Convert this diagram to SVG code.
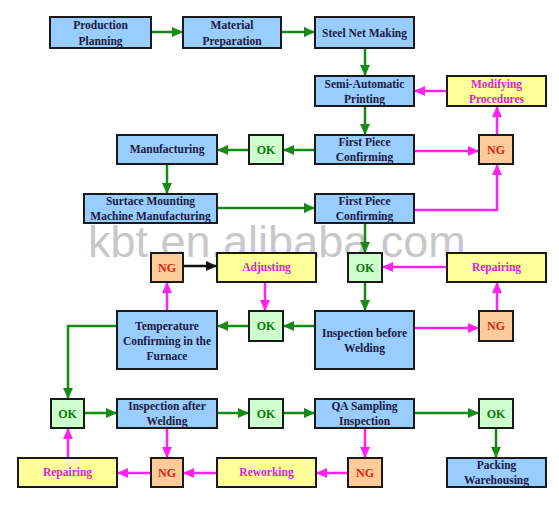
<svg xmlns="http://www.w3.org/2000/svg" width="559" height="511" viewBox="0 0 559 511">
<style>
.b{fill:#99ccff;stroke:#1a1a1a;stroke-width:2}
.y{fill:#ffff99;stroke:#1a1a1a;stroke-width:2}
.o{fill:#ccffcc;stroke:#1a1a1a;stroke-width:2}
.n{fill:#ffcc99;stroke:#1a1a1a;stroke-width:2}
text{font-family:"Liberation Serif","Times New Roman",serif;font-weight:bold;font-size:11.5px;text-anchor:middle}
.tb{fill:#1a1a40}
.ty{fill:#dd22cc}
.to{fill:#117711;font-size:12px}
.tn{fill:#dd2211;font-size:12px}
.g{stroke:#168a16;stroke-width:2.5;fill:none}
.m{stroke:#ff22ee;stroke-width:2.5;fill:none}
.k{stroke:#111;stroke-width:2.5;fill:none}
.wm{font-family:"Liberation Sans",Arial,sans-serif;font-weight:normal;font-size:45px;fill:#c8c8c8;text-anchor:start}
</style>
<defs>
<marker id="ag" markerUnits="userSpaceOnUse" markerWidth="12" markerHeight="10" refX="11" refY="5" orient="auto"><path d="M0,0L11,5L0,10z" fill="#168a16"/></marker>
<marker id="am" markerUnits="userSpaceOnUse" markerWidth="12" markerHeight="10" refX="11" refY="5" orient="auto"><path d="M0,0L11,5L0,10z" fill="#ff22ee"/></marker>
<marker id="ak" markerUnits="userSpaceOnUse" markerWidth="12" markerHeight="10" refX="11" refY="5" orient="auto"><path d="M0,0L11,5L0,10z" fill="#111"/></marker>
</defs>
<rect width="559" height="511" fill="#fff"/>
<text class="wm" x="88" y="257">kbt.en.alibaba.com</text>
<g id="connectors">
<path class="g" marker-end="url(#ag)" d="M151,32H183"/>
<path class="g" marker-end="url(#ag)" d="M281,32H315"/>
<path class="g" marker-end="url(#ag)" d="M365,48V76"/>
<path class="m" marker-end="url(#am)" d="M447,91H414"/>
<path class="g" marker-end="url(#ag)" d="M365,106V135"/>
<path class="m" marker-end="url(#am)" d="M497,135V106"/>
<path class="m" marker-end="url(#am)" d="M414,151H479"/>
<path class="g" marker-end="url(#ag)" d="M315,150H283"/>
<path class="g" marker-end="url(#ag)" d="M249,150H217"/>
<path class="g" marker-end="url(#ag)" d="M167,164V194"/>
<path class="g" marker-end="url(#ag)" d="M217,208H315"/>
<path class="m" marker-end="url(#am)" d="M414,210H497V164"/>
<path class="g" marker-end="url(#ag)" d="M365,223V253"/>
<path class="m" marker-end="url(#am)" d="M447,267H382"/>
<path class="g" marker-end="url(#ag)" d="M365,282V311"/>
<path class="m" marker-end="url(#am)" d="M497,311V282"/>
<path class="m" marker-end="url(#am)" d="M414,328H479"/>
<path class="g" marker-end="url(#ag)" d="M315,326H283"/>
<path class="g" marker-end="url(#ag)" d="M249,326H217"/>
<path class="m" marker-end="url(#am)" d="M167,311V282"/>
<path class="k" marker-end="url(#ak)" d="M183,266H217"/>
<path class="m" marker-end="url(#am)" d="M265,282V311"/>
<path class="g" marker-end="url(#ag)" d="M117,326H68V399"/>
<path class="g" marker-end="url(#ag)" d="M84,413H117"/>
<path class="g" marker-end="url(#ag)" d="M217,413H249"/>
<path class="g" marker-end="url(#ag)" d="M283,413H315"/>
<path class="g" marker-end="url(#ag)" d="M414,413H479"/>
<path class="g" marker-end="url(#ag)" d="M496,428V458"/>
<path class="m" marker-end="url(#am)" d="M365,428V458"/>
<path class="m" marker-end="url(#am)" d="M348,473H316"/>
<path class="m" marker-end="url(#am)" d="M217,473H183"/>
<path class="m" marker-end="url(#am)" d="M167,428V458"/>
<path class="m" marker-end="url(#am)" d="M151,473H117"/>
<path class="m" marker-end="url(#am)" d="M68,458V428"/>
</g>
<g id="production-planning"><rect class="b" x="50" y="17" width="101" height="31"/><text class="tb" x="100.5" y="29">Production</text><text class="tb" x="100.5" y="45">Planning</text></g>
<g id="material-preparation"><rect class="b" x="183" y="17" width="98" height="31"/><text class="tb" x="232" y="29">Material</text><text class="tb" x="232" y="45">Preparation</text></g>
<g id="steel-net-making"><rect class="b" x="315" y="17" width="99" height="31"/><text class="tb" x="364.5" y="37">Steel Net Making</text></g>
<g id="semi-automatic-printing"><rect class="b" x="315" y="76" width="99" height="30"/><text class="tb" x="364.5" y="88">Semi-Automatic</text><text class="tb" x="364.5" y="103">Printing</text></g>
<g id="modifying-procedures"><rect class="y" x="447" y="76" width="99" height="30"/><text class="ty" x="496.5" y="88">Modifying</text><text class="ty" x="496.5" y="103">Procedures</text></g>
<g id="ng-1"><rect class="n" x="479" y="135" width="34" height="29"/><text class="tn" x="496" y="154">NG</text></g>
<g id="first-piece-1"><rect class="b" x="315" y="135" width="99" height="29"/><text class="tb" x="364.5" y="146">First Piece</text><text class="tb" x="364.5" y="161">Confirming</text></g>
<g id="ok-1"><rect class="o" x="249" y="135" width="34" height="29"/><text class="to" x="266" y="154">OK</text></g>
<g id="manufacturing"><rect class="b" x="117" y="135" width="100" height="29"/><text class="tb" x="167" y="153">Manufacturing</text></g>
<g id="smm"><rect class="b" x="84" y="194" width="133" height="29"/><text class="tb" x="150.5" y="205">Surtace Mounting</text><text class="tb" x="150.5" y="220">Machine Manufacturing</text></g>
<g id="first-piece-2"><rect class="b" x="315" y="194" width="99" height="29"/><text class="tb" x="364.5" y="205">First Piece</text><text class="tb" x="364.5" y="220">Confirming</text></g>
<g id="ng-2"><rect class="n" x="151" y="253" width="32" height="29"/><text class="tn" x="167" y="272">NG</text></g>
<g id="adjusting"><rect class="y" x="217" y="253" width="99" height="29"/><text class="ty" x="266.5" y="271">Adjusting</text></g>
<g id="ok-2"><rect class="o" x="348" y="253" width="34" height="29"/><text class="to" x="365" y="272">OK</text></g>
<g id="repairing-1"><rect class="y" x="447" y="253" width="99" height="29"/><text class="ty" x="496.5" y="271">Repairing</text></g>
<g id="temperature"><rect class="b" x="117" y="311" width="100" height="58"/><text class="tb" x="167" y="330">Temperature</text><text class="tb" x="167" y="345">Confirming in the</text><text class="tb" x="167" y="360">Furnace</text></g>
<g id="ok-3"><rect class="o" x="249" y="311" width="34" height="30"/><text class="to" x="266" y="330">OK</text></g>
<g id="inspection-before"><rect class="b" x="315" y="311" width="99" height="58"/><text class="tb" x="364.5" y="337">Inspection before</text><text class="tb" x="364.5" y="352">Welding</text></g>
<g id="ng-3"><rect class="n" x="479" y="311" width="34" height="30"/><text class="tn" x="496" y="330">NG</text></g>
<g id="ok-4"><rect class="o" x="51" y="399" width="33" height="29"/><text class="to" x="67.5" y="418">OK</text></g>
<g id="inspection-after"><rect class="b" x="117" y="399" width="100" height="29"/><text class="tb" x="167" y="410">Inspection after</text><text class="tb" x="167" y="425">Welding</text></g>
<g id="ok-5"><rect class="o" x="249" y="399" width="34" height="29"/><text class="to" x="266" y="418">OK</text></g>
<g id="qa-sampling"><rect class="b" x="315" y="399" width="99" height="29"/><text class="tb" x="364.5" y="410">QA Sampling</text><text class="tb" x="364.5" y="425">Inspection</text></g>
<g id="ok-6"><rect class="o" x="479" y="399" width="34" height="29"/><text class="to" x="496" y="418">OK</text></g>
<g id="repairing-2"><rect class="y" x="18" y="458" width="99" height="29"/><text class="ty" x="67.5" y="476">Repairing</text></g>
<g id="ng-4"><rect class="n" x="151" y="458" width="32" height="29"/><text class="tn" x="167" y="477">NG</text></g>
<g id="reworking"><rect class="y" x="217" y="458" width="99" height="29"/><text class="ty" x="266.5" y="476">Reworking</text></g>
<g id="ng-5"><rect class="n" x="348" y="458" width="34" height="29"/><text class="tn" x="365" y="477">NG</text></g>
<g id="packing"><rect class="b" x="447" y="458" width="99" height="29"/><text class="tb" x="496.5" y="469">Packing</text><text class="tb" x="496.5" y="484">Warehousing</text></g>
</svg>
